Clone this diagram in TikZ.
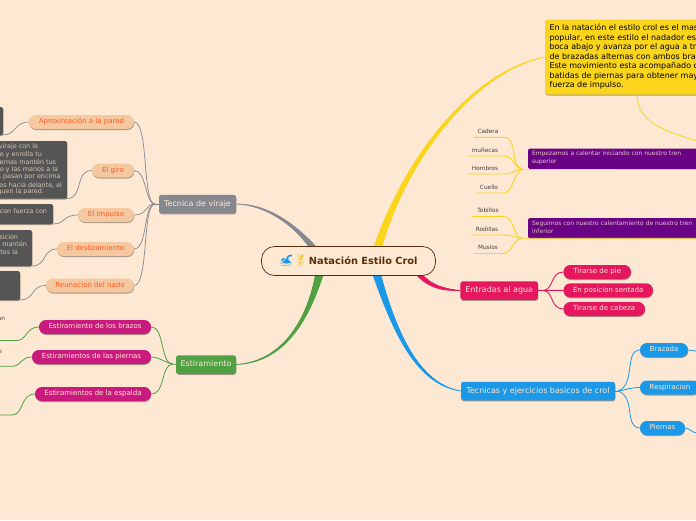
\documentclass[tikz,border=0pt]{standalone}
\usepackage{fontspec}
\setmainfont{DejaVu Sans}
\newfontfamily\emojifont{Noto Emoji}
\usetikzlibrary{shadows}
\definecolor{bgc}{HTML}{FDE8D3}
\definecolor{ylw}{HTML}{FBD51C}
\definecolor{gry}{HTML}{85888F}
\definecolor{grn}{HTML}{50A044}
\definecolor{blu}{HTML}{1B99E8}
\definecolor{pnk}{HTML}{E6175F}
\definecolor{mag}{HTML}{CB1A7E}
\definecolor{pur}{HTML}{6A0286}
\definecolor{pch}{HTML}{F6C8A0}
\definecolor{drk}{HTML}{555555}
\definecolor{org}{HTML}{FF5A1F}
\definecolor{brn}{HTML}{5A2E0C}
\tikzset{
 x=1pt,y=-1pt,
 every node/.style={inner sep=0pt,outer sep=0pt,font=\fontsize{7}{8}\selectfont},
 sh/.style={drop shadow={shadow xshift=0.3pt,shadow yshift=-1pt,opacity=.35,fill=black}},
 pill/.style={sh,rounded corners=6.9pt,minimum height=14pt,text height=5.2pt,text depth=1.3pt,anchor=center},
 peach/.style={pill,fill=pch,text=org},
 magp/.style={pill,fill=mag,text=bgc},
 pnkp/.style={pill,fill=pnk,text=bgc},
 blup/.style={pill,fill=blu,text=bgc},
 mainb/.style={sh,rounded corners=2.5pt,minimum height=18.5pt,text=bgc,font=\fontsize{8}{10}\selectfont,text height=6.2pt,text depth=1.6pt},
 dark/.style={sh,fill=drk,rounded corners=1.5pt,anchor=north west},
 dtext/.style={text=bgc!85!black,anchor=east,font=\fontsize{6.4}{7}\selectfont},
 purb/.style={fill=pur,rounded corners=1.5pt,anchor=north west,minimum width=182pt},
 ptext/.style={text=bgc!85!pur,anchor=north west,align=left},
 lab/.style={text=black!75,font=\fontsize{5.8}{7}\selectfont,anchor=center},
 ybr/.style={ylw,line width=.9pt},
 gbr/.style={gry,line width=.7pt},
 grb/.style={grn,line width=.8pt},
 bbr/.style={blu,line width=.8pt},
 pbr/.style={pnk,line width=.9pt},
 trunk/.style={line width=.7pt,line join=round},
}
\begin{document}
\begin{tikzpicture}
\useasboundingbox (0,0) rectangle (696,520);
\clip (0,0) rectangle (696,520);
\fill[bgc] (0,0) rectangle (696,520);
% hubs and free ends
\coordinate (hubG) at (155,204);
\coordinate (hubE) at (173,364);
\coordinate (hubR) at (543,290.5);
\coordinate (hubB) at (618,391);
\coordinate (hubY1) at (522,169);
\coordinate (hubY2) at (522,238.3);
\coordinate (ybot) at (637,93);
\coordinate (yend) at (697,141);
\coordinate (bax) at (697,351);
\coordinate (bcx) at (697,433);
% main nodes
\node[mainb,fill=gry,minimum width=77pt] (tec) at (197.5,204) {Tecnica de viraje};
\node[mainb,fill=grn,minimum width=60pt] (est) at (206,364.5) {Estiramiento};
\node[mainb,fill=pnk,minimum width=77.5pt] (ent) at (499.2,290.5) {Entradas al agua};
\node[mainb,fill=blu,minimum width=154pt] (tej) at (538,391) {Tecnicas y ejercicios basicos de crol};
% yellow note
\node[sh,fill=ylw,rounded corners=3pt,anchor=north west,minimum width=170pt,minimum height=75pt] (ybox) at (545,19.5) {};
\node[anchor=north west,text=black,font=\fontsize{8.0}{9.55}\selectfont,align=left] (ytxt) at (549.5,24.2) {En la natación el estilo crol es el mas\\popular, en este estilo el nadador est\\boca abajo y avanza por el agua a tr\\de brazadas alternas con ambos bra\\Este movimiento esta acompañado c\\batidas de piernas para obtener may\\fuerza de impulso.};
% purple notes
\node[purb,minimum height=20.5pt] (p1) at (528,148.5) {};
\node[purb,minimum height=20.3pt] (p2) at (528,218) {};
\node[ptext,font=\fontsize{6}{7.9}\selectfont] (p1t) at (532,151.3) {Empezamos a calentar iniciando con nuestro tren\\superior};
\node[ptext,font=\fontsize{6}{7.4}\selectfont] (p2t) at (532,221.3) {Seguimos con nuestro calentamiento de nuestro tren\\inferior};
% leaves
\node[lab] (a) at (488,131) {Cadera};
\node[lab] (b) at (485,150) {muñecas};
\node[lab] (c) at (485,168) {Hombros};
\node[lab] (d) at (489,187) {Cuello};
\node[lab] (e) at (488,210) {Tobillos};
\node[lab] (f) at (487,229) {Rodillas};
\node[lab] (g) at (488,247) {Muslos};
\coordinate (as) at (473,137.3); \coordinate (ae) at (504,137.3);
\coordinate (bs) at (468,156); \coordinate (be) at (504,156);
\coordinate (cs) at (468,174); \coordinate (ce) at (504,174);
\coordinate (ds) at (476,193); \coordinate (de) at (504,193);
\coordinate (es) at (472,216.5); \coordinate (ee) at (503,216.5);
\coordinate (fs) at (471,235); \coordinate (fe) at (503,235);
\coordinate (gs) at (474,253.5); \coordinate (ge) at (503,253.5);
\draw[ybr] (as) -- (ae) .. controls (518,138) and (510,166) .. (hubY1);
\draw[ybr] (bs) -- (be) .. controls (516,157) and (512,167) .. (hubY1);
\draw[ybr] (cs) -- (ce) .. controls (512,174) and (516,170) .. (hubY1);
\draw[ybr] (ds) -- (de) .. controls (513,192) and (513,175) .. (hubY1);
\draw[ybr] (es) -- (ee) .. controls (515,216) and (512,236) .. (hubY2);
\draw[ybr] (fs) -- (fe) .. controls (512,235) and (516,238) .. (hubY2);
\draw[ybr] (gs) -- (ge) .. controls (513,253) and (512,240) .. (hubY2);
\draw[ylw,line width=.8pt] (hubY1) -- (p1.south west) -- (p1.south east);
\draw[ylw,line width=.8pt] (hubY2) -- (p2.south west) -- (p2.south east);
\draw[ylw,line width=.8pt] (ybot) .. controls (637,122) and (662,130) .. (yend);
% pink branch
\node[pnkp,minimum width=67.5pt] (pa) at (597.2,272) {Tirarse de pie};
\node[pnkp,minimum width=89.5pt] (pb) at (608.2,290.3) {En posicion sentada};
\node[pnkp,minimum width=81.5pt] (pc) at (604.2,309) {Tirarse de cabeza};
\draw[pbr] (ent.east) -- (hubR) .. controls (554,290) and (550,272) .. (pa.west);
\draw[pbr] (hubR) -- (pb.west);
\draw[pbr] (hubR) .. controls (554,291) and (550,309) .. (pc.west);
% blue branch
\node[blup,minimum width=48pt] (ba) at (664,350) {Brazada};
\node[blup,minimum width=60pt] (bb) at (670,387.5) {Respiracion};
\node[blup,minimum width=45pt] (bc) at (662.5,428) {Piernas};
\draw[bbr] (tej.east) -- (hubB);
\draw[bbr] (hubB) .. controls (636,385) and (624,350) .. (ba.west);
\draw[bbr] (hubB) .. controls (626,390) and (630,387.5) .. (bb.west);
\draw[bbr] (hubB) .. controls (636,397) and (624,428) .. (bc.west);
\draw[bbr] (ba.east) .. controls (691,350) and (693,351) .. (bax);
\draw[bbr] (bc.east) .. controls (690,428) and (690,432) .. (bcx);
% grey branch
\node[peach,minimum width=105pt] (g1) at (81.5,122) {Aproximación a la pared};
\node[peach,minimum width=42pt] (g2) at (113,170.5) {El giro};
\node[peach,minimum width=56pt] (g3) at (106,215) {El impulso};
\node[peach,minimum width=77pt] (g4) at (95.5,249) {El deslizamiento};
\node[peach,minimum width=88pt] (g5) at (90,285.5) {Reunacion del nado};
\draw[gbr] (tec.west) -- (hubG);
\draw[gbr] (hubG) .. controls (142,204) and (149,122) .. (g1.east);
\draw[gbr] (hubG) .. controls (145,204) and (147,170.5) .. (g2.east);
\draw[gbr] (hubG) .. controls (145,204) and (148,215) .. (g3.east);
\draw[gbr] (hubG) .. controls (143,204) and (148,249) .. (g4.east);
\draw[gbr] (hubG) .. controls (142,204) and (149,285.5) .. (g5.east);
% dark notes
\node[dark,minimum width=33pt,minimum height=28pt] (d1) at (-30,107) {};
\node[dark,minimum width=97pt,minimum height=57.5pt] (d2) at (-30,141) {};
\node[dark,minimum width=83pt,minimum height=20pt] (d3) at (-30,204) {};
\node[dark,minimum width=62pt,minimum height=36pt] (d4) at (-30,230) {};
\node[dark,minimum width=50pt,minimum height=29pt] (d5) at (-30,271) {};
\node[dtext] (t21) at (38,147) {viraje con la};
\node[dtext] (t22) at (42,154.5) {no y enrolla tu};
\node[dtext] (t23) at (56,162) {iernas mantén tus};
\node[dtext] (t24) at (58,170) {po y las manos a la};
\node[dtext] (t25) at (60.5,177) {es pasan por encima};
\node[dtext] (t26) at (62,185) {azos hacia delante, el};
\node[dtext] (t27) at (44,192) {equen la pared.};
\node[dtext] (t31) at (47,211.5) {s con fuerza con};
\node[dtext] (t41) at (18,236.5) {sición};
\node[dtext] (t42) at (27,244) {o mantén};
\node[dtext] (t43) at (18,252) {tes la};
\draw[gbr] (d1.south east) .. controls (16,135) and (14,122) .. (g1.west);
\draw[gbr] (d2.south east) .. controls (84,198.5) and (74,170.5) .. (g2.west);
\draw[gbr] (d3.south east) .. controls (66,224) and (62,215) .. (g3.west);
\draw[gbr] (d4.south east) .. controls (47,266) and (42,249) .. (g4.west);
\draw[gbr] (d5.south east) .. controls (36,299.5) and (30,285.5) .. (g5.west);
% green branch
\node[magp,minimum width=112pt] (m1) at (95,327) {Estiramiento de los brazos};
\node[magp,minimum width=119pt] (m2) at (91.5,357) {Estiramientos de las piernas};
\node[magp,minimum width=116pt] (m3) at (93,394) {Estiramientos de la espalda};
\node[lab,anchor=east,text=black!75] (l1) at (5,319) {an};
\node[lab,anchor=east,text=black!75] (l2) at (2,352) {e};
\coordinate (s1) at (-1,340.5); \coordinate (s2) at (-1,366.3); \coordinate (s3) at (-1,415);
\draw[grb] (s1) -- (17,340.5) .. controls (27,340) and (26,327) .. (m1.west);
\draw[grb] (s2) -- (12,366.3) .. controls (22,366) and (20,357) .. (m2.west);
\draw[grb] (s3) -- (12,415) .. controls (24,415) and (20,394) .. (m3.west);
\draw[grb] (est.west) -- (hubE);
\draw[grb] (hubE) .. controls (160,364) and (165,327) .. (m1.east);
\draw[grb] (hubE) .. controls (165,363) and (160,357) .. (m2.east);
\draw[grb] (hubE) .. controls (160,365) and (166,394) .. (m3.east);
% trunks from root to main nodes
\coordinate (rg1) at (311,250); \coordinate (rg2) at (319,250);
\coordinate (rn1) at (316,272); \coordinate (rn2) at (324,272);
\coordinate (ry1) at (373,250); \coordinate (ry2) at (381,250);
\coordinate (rp1) at (414,272); \coordinate (rp2) at (420,272);
\coordinate (rb1) at (372,272); \coordinate (rb2) at (380,272);
\filldraw[gry,trunk] (tec.east) .. controls (265,204.5) and (296,226) .. (rg1) -- (rg2) .. controls (296,224) and (267,203.5) .. (tec.east);
\filldraw[grn,trunk] (est.east) .. controls (277,362) and (306,328) .. (rn1) -- (rn2) .. controls (306,330) and (279,363) .. (est.east);
\filldraw[ylw,trunk] (ybox.west) .. controls (467,72) and (401,165) .. (ry1) -- (ry2) .. controls (403,168) and (469,73.5) .. (ybox.west);
\filldraw[pnk,trunk] (ent.west) .. controls (444,289) and (430,285) .. (rp2) -- (rp1) .. controls (427,288) and (442,291) .. (ent.west);
\filldraw[blu,trunk] (tej.west) .. controls (417,385) and (394,335) .. (rb1) -- (rb2) .. controls (396,332) and (419,384) .. (tej.west);
% root
\node[draw=brn,line width=.7pt,fill=bgc,rounded corners=13pt,minimum width=174pt,minimum height=29pt,text=brn,font=\bfseries\fontsize{9.8}{11}\selectfont] (root) at (348.5,261) {\raisebox{-.5pt}{\fontsize{11}{12}\selectfont\color{blu}\emojifont\symbol{"1F3CA}\color{ylw!80!brown}\symbol{"1F3C5}}\,Natación Estilo Crol};
\end{tikzpicture}
\end{document}
